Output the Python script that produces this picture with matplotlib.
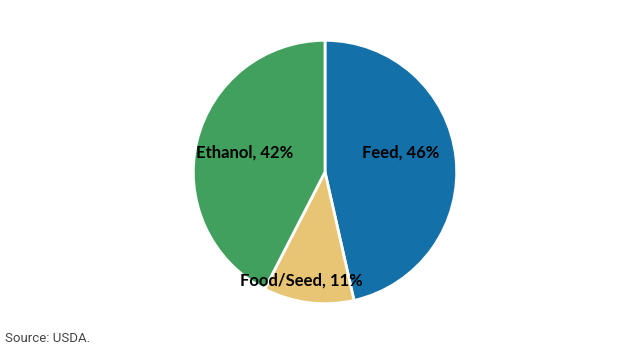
import numpy as np
import matplotlib.pyplot as plt

# corn use shares
labels = ['Feed', 'Food/Seed', 'Ethanol']
shares = [46, 11, 42]
colors = ['#1470A8', '#E8C574', '#41A05E']

fig = plt.figure(figsize=(6.39, 3.51), dpi=100)
ax = fig.add_axes([192 / 639, 46 / 351, 266 / 639, 266 / 351])

wedges, _ = ax.pie(shares, colors=colors, startangle=90, counterclock=False,
                   wedgeprops=dict(edgecolor='white', linewidth=2))
ax.set_xlim(-1.01, 1.01)
ax.set_ylim(-1.01, 1.01)
ax.set_aspect('equal')

# label placement: distance from centre and angle nudge, per wedge
dists = [0.59, 0.84, 0.63]
nudges = [8, -5, 0]
for w, lab, s, d, n in zip(wedges, labels, shares, dists, nudges):
    mid = np.deg2rad((w.theta1 + w.theta2) / 2 + n)
    ax.text(d * np.cos(mid), d * np.sin(mid), f'{lab}, {s}%',
            ha='center', va='center', fontsize=12, fontweight='bold',
            family='Lato', color='black')

fig.text(5 / 639, 1 - 338 / 351, 'Source: USDA.', ha='left', va='center',
         fontsize=9.5, family='Roboto', color='#444444')

fig.savefig('out.png', dpi=100)
